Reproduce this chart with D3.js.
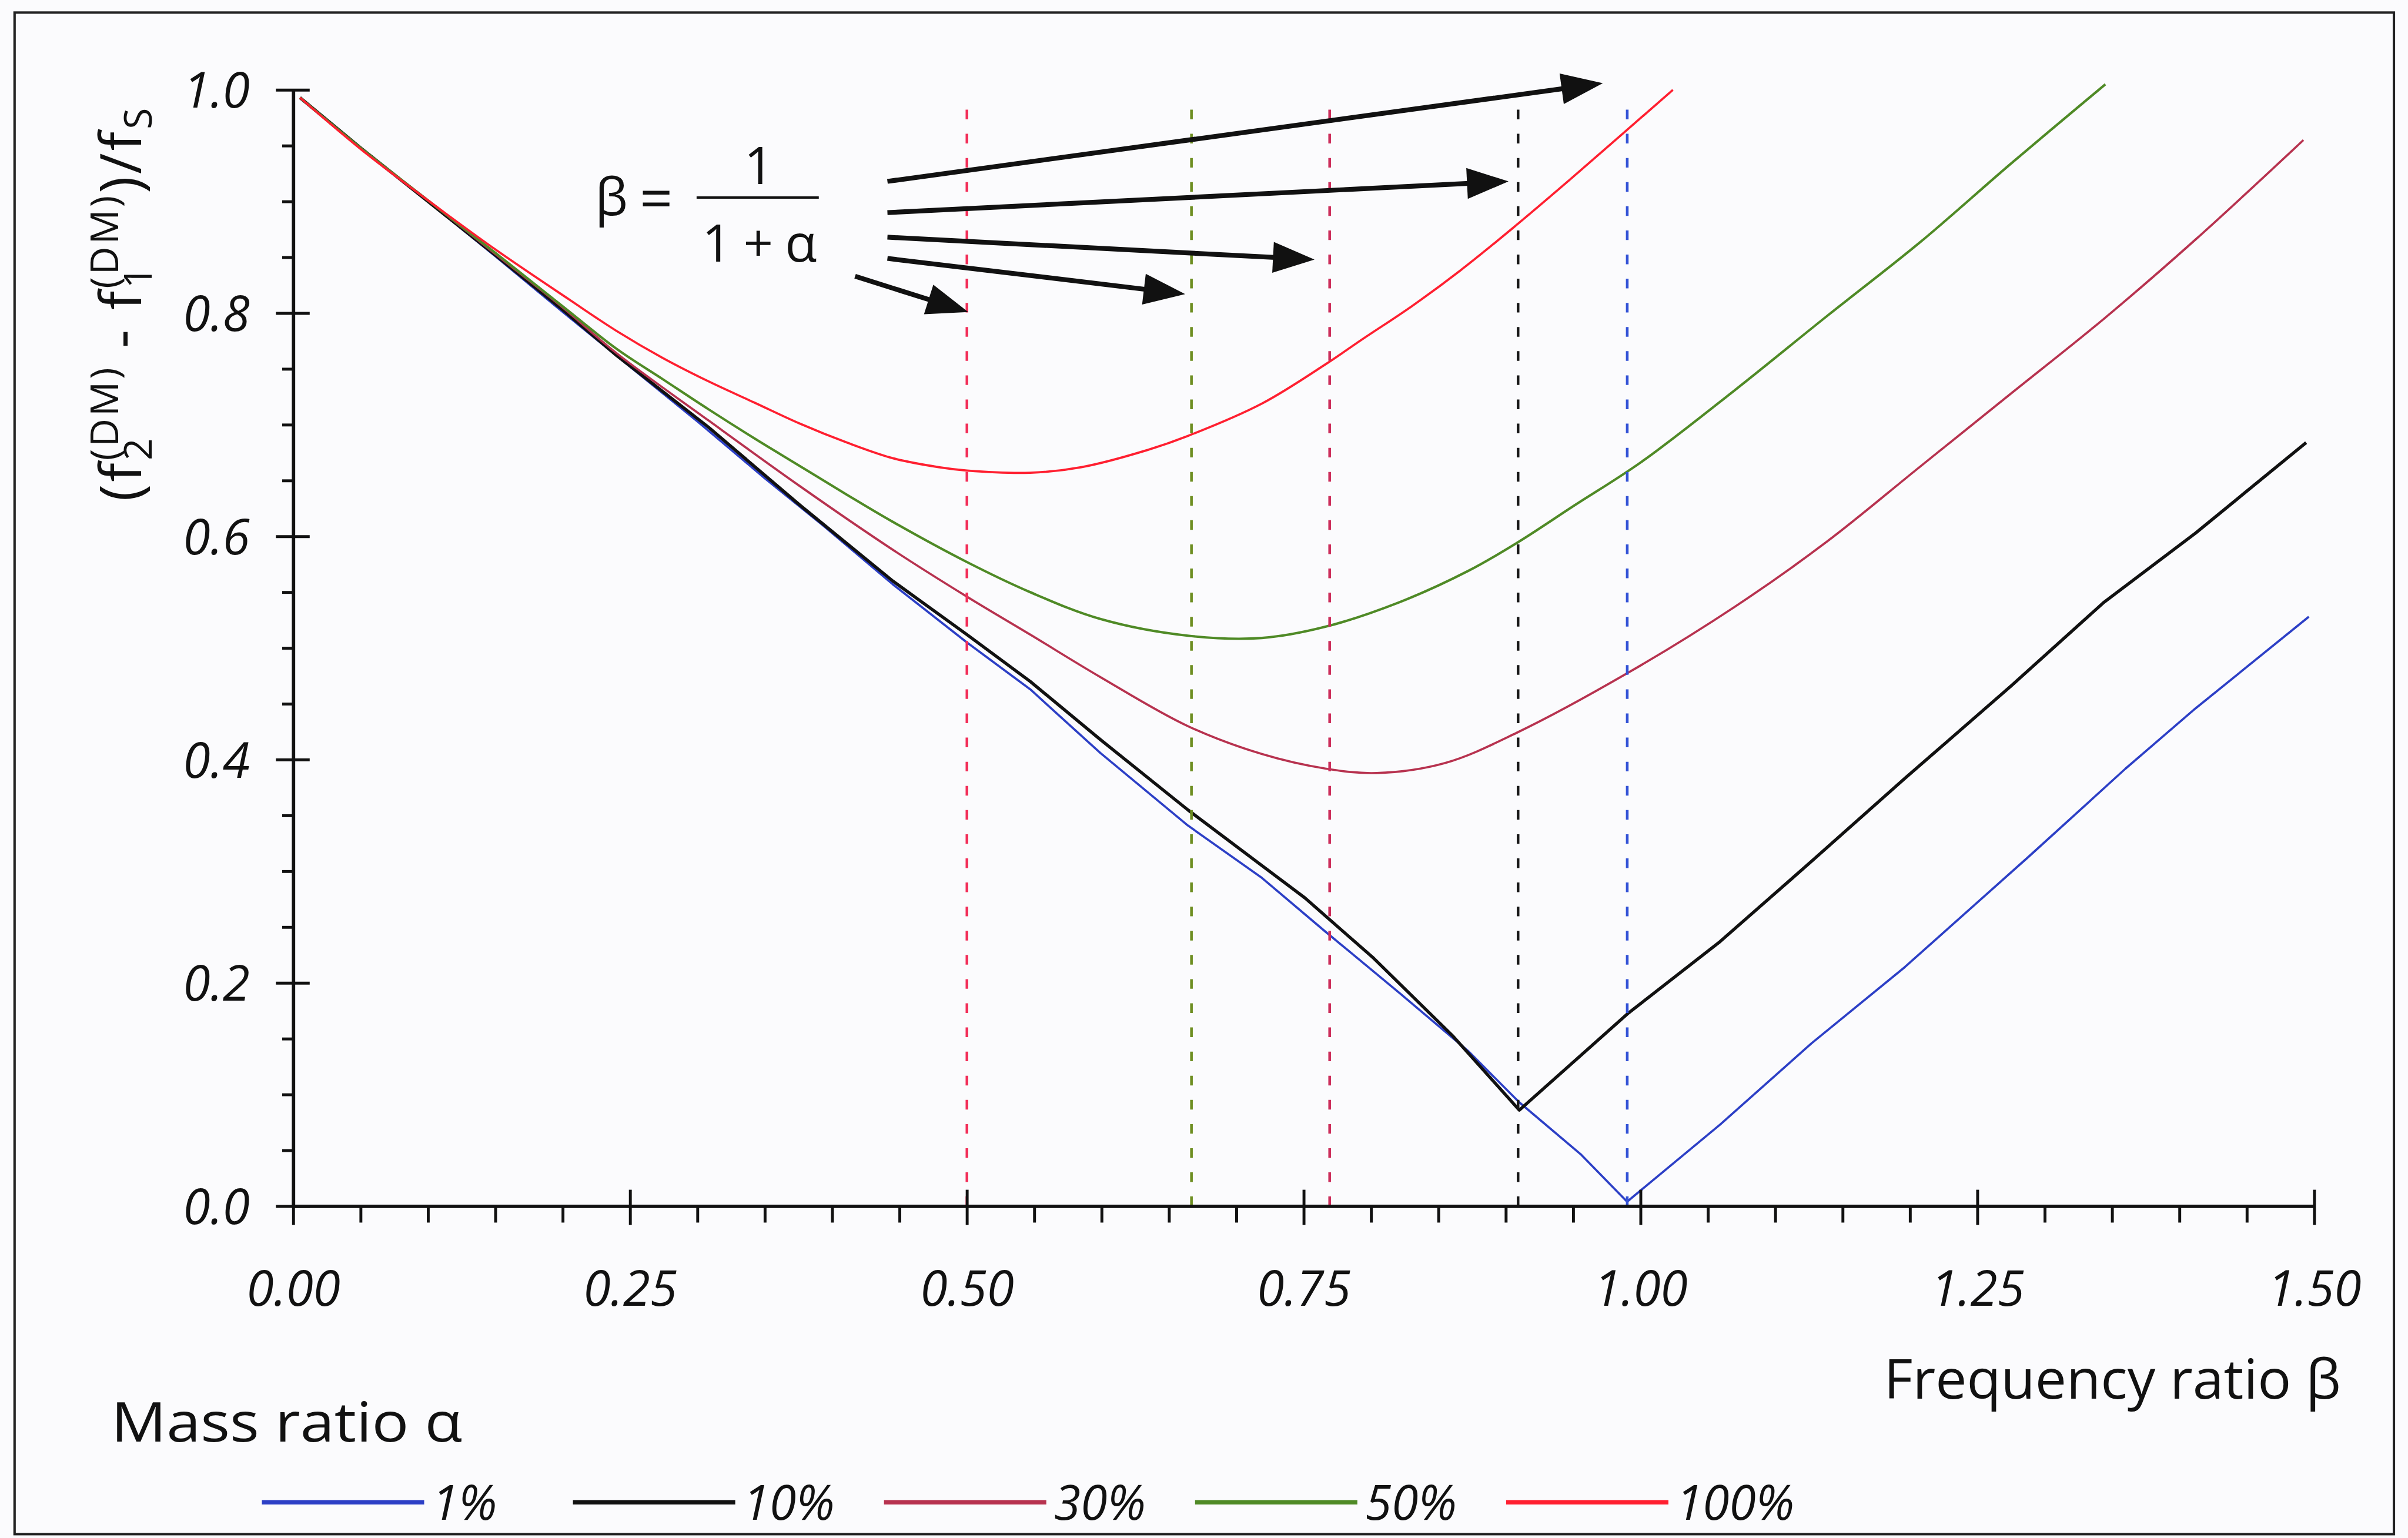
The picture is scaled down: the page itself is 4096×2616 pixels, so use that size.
<!DOCTYPE html>
<html>
<head>
<meta charset="utf-8">
<script src="https://cdn.jsdelivr.net/npm/d3@7"></script>
<style>
  html, body { margin: 0; padding: 0; background: #fbfbfd; overflow: hidden; }
  svg { display: block; }
</style>
</head>
<body>
<svg id="chart"></svg>
<script>
// ---- tick values -------------------------------------------------------
const xMajor = [0, 0.25, 0.5, 0.75, 1.0, 1.25, 1.5];
const yMajor = [0, 0.2, 0.4, 0.6, 0.8, 1.0];

// ---- series: mass ratio alpha, frequency ratio beta vs normalised gap ---
const seriesLabels = ["1%", "10%", "30%", "50%", "100%"];
const massRatios   = [0.01, 0.1, 0.3, 0.5, 1.0];

const beta1 = [0.005, 0.05, 0.10, 0.15, 0.20, 0.25, 0.30, 0.35, 0.393, 0.445, 0.50, 0.547, 0.599, 0.664, 0.719, 0.766, 0.821, 0.872, 0.910, 0.956, 0.990, 1.059, 1.127, 1.196, 1.288, 1.360, 1.412, 1.496];
const diff1 = [0.993, 0.948, 0.900, 0.851, 0.801, 0.752, 0.703, 0.652, 0.610, 0.557, 0.505, 0.463, 0.406, 0.341, 0.294, 0.246, 0.191, 0.139, 0.093, 0.046, 0.004, 0.073, 0.146, 0.214, 0.313, 0.392, 0.446, 0.528];

const beta10 = [0.005, 0.05, 0.10, 0.15, 0.20, 0.24, 0.308, 0.376, 0.445, 0.50, 0.547, 0.599, 0.664, 0.719, 0.751, 0.802, 0.861, 0.910, 0.991, 1.059, 1.127, 1.196, 1.275, 1.344, 1.412, 1.494];
const diff10 = [0.993, 0.948, 0.900, 0.852, 0.803, 0.762, 0.698, 0.628, 0.560, 0.512, 0.470, 0.418, 0.355, 0.305, 0.276, 0.222, 0.152, 0.086, 0.173, 0.237, 0.309, 0.383, 0.466, 0.541, 0.603, 0.684];

const beta30 = [0.005, 0.05, 0.10, 0.15, 0.20, 0.24, 0.308, 0.376, 0.445, 0.50, 0.547, 0.599, 0.664, 0.719, 0.766, 0.804, 0.855, 0.908, 0.991, 1.070, 1.138, 1.207, 1.275, 1.344, 1.412, 1.492];
const diff30 = [0.993, 0.948, 0.901, 0.853, 0.805, 0.764, 0.704, 0.645, 0.588, 0.546, 0.512, 0.474, 0.430, 0.405, 0.392, 0.388, 0.397, 0.424, 0.478, 0.537, 0.595, 0.662, 0.728, 0.795, 0.866, 0.955];

const beta50 = [0.005, 0.05, 0.10, 0.15, 0.20, 0.24, 0.274, 0.308, 0.342, 0.376, 0.41, 0.445, 0.50, 0.547, 0.599, 0.664, 0.719, 0.766, 0.821, 0.872, 0.908, 0.95, 1.001, 1.070, 1.138, 1.207, 1.275, 1.345];
const diff50 = [0.993, 0.948, 0.901, 0.854, 0.806, 0.768, 0.741, 0.714, 0.688, 0.663, 0.638, 0.613, 0.577, 0.550, 0.526, 0.511, 0.509, 0.519, 0.541, 0.569, 0.594, 0.627, 0.667, 0.731, 0.797, 0.863, 0.934, 1.005];

const beta100 = [0.005, 0.05, 0.10, 0.15, 0.205, 0.240, 0.274, 0.308, 0.342, 0.376, 0.411, 0.445, 0.479, 0.50, 0.547, 0.585, 0.633, 0.664, 0.719, 0.766, 0.794, 0.830, 0.866, 0.905, 0.948, 0.987, 1.024];
const diff100 = [0.993, 0.947, 0.901, 0.857, 0.812, 0.784, 0.760, 0.739, 0.720, 0.701, 0.684, 0.670, 0.662, 0.659, 0.657, 0.662, 0.677, 0.690, 0.719, 0.754, 0.777, 0.806, 0.838, 0.876, 0.920, 0.961, 1.000];

// ---- annotation arrows (beta, value) from the formula to each resonance line
const arrowFrom = [[0.441, 0.918], [0.441, 0.890], [0.441, 0.868], [0.441, 0.849], [0.417, 0.833]];
const arrowTo   = [[0.972, 1.006], [0.902, 0.918], [0.758, 0.848], [0.662, 0.817], [0.501, 0.801]];

// ---- styling ------------------------------------------------------------
const lineColors = ["#2c3fc6", "#111111", "#b7324f", "#4f8a26", "#ff1f30"];
const lineWidths = [4.5, 6.5, 4.5, 5, 4.5];
const dashColors = ["#3352d6", "#1a1a1a", "#cc2f5c", "#6e8e22", "#f2305a"];

const W = 4985, H = 3184;
const FONT = "'Open Sans', 'Noto Sans', sans-serif";

const svg = d3.select("#chart")
  .attr("width", 4096).attr("height", 2616)
  .attr("viewBox", `0 0 ${W} ${H}`);

svg.append("rect").attr("width", W).attr("height", H).attr("fill", "#fbfbfd");

// outer frame
svg.append("rect")
  .attr("x", 30).attr("y", 26).attr("width", 4926).attr("height", 3150)
  .attr("fill", "none").attr("stroke", "#222").attr("stroke-width", 5);

const x = d3.scaleLinear().domain([0, 1.5]).range([607, 4791]);
const y = d3.scaleLinear().domain([0, 1]).range([2497, 186]);

const series = seriesLabels.map((label, i) => ({
  label,
  alpha: massRatios[i],
  color: lineColors[i],
  width: lineWidths[i],
  dash: dashColors[i],
  smooth: i >= 2,
  points: [beta1, beta10, beta30, beta50, beta100][i]
    .map((b, j) => [b, [diff1, diff10, diff30, diff50, diff100][i][j]])
}));

// ---- curves -------------------------------------------------------------
const lineSharp = d3.line().x(d => x(d[0])).y(d => y(d[1])).curve(d3.curveLinear);
const lineSmooth = d3.line().x(d => x(d[0])).y(d => y(d[1])).curve(d3.curveCatmullRom.alpha(0.5));

svg.append("g").selectAll("path").data(series).join("path")
  .attr("d", s => (s.smooth ? lineSmooth : lineSharp)(s.points))
  .attr("fill", "none")
  .attr("stroke", s => s.color)
  .attr("stroke-width", s => s.width)
  .attr("stroke-linejoin", "round");

// ---- dashed lines at beta = 1/(1+alpha) --------------------------------
svg.append("g").selectAll("line").data(series).join("line")
  .attr("x1", s => x(1 / (1 + s.alpha))).attr("x2", s => x(1 / (1 + s.alpha)))
  .attr("y1", y(0)).attr("y2", y(0.987))
  .attr("stroke", s => s.dash)
  .attr("stroke-width", 5.5)
  .attr("stroke-dasharray", "20 30");

// ---- axes ---------------------------------------------------------------
const axisStyle = g => {
  g.selectAll("path.domain").attr("stroke", "#111").attr("stroke-width", 7);
  g.selectAll(".tick line").attr("stroke", "#111").attr("stroke-width", 6);
  g.selectAll(".tick text")
    .attr("fill", "#111")
    .style("font-family", FONT)
    .style("font-style", "italic")
    .style("font-size", "102px");
};

const minorX = d3.range(0, 31).map(i => i * 0.05).filter(v => Math.abs(v * 4 - Math.round(v * 4)) > 1e-6);
const minorY = d3.range(0, 21).map(i => i * 0.05).filter(v => Math.abs(v * 5 - Math.round(v * 5)) > 1e-6);

// x minor ticks (below the axis)
svg.append("g").attr("transform", `translate(0,${y(0)})`)
  .call(d3.axisBottom(x).tickValues(minorX).tickSize(34).tickSizeOuter(0).tickFormat(""))
  .call(g => g.select("path.domain").remove())
  .call(axisStyle);

// y minor ticks (left of the axis)
svg.append("g").attr("transform", `translate(${x(0)},0)`)
  .call(d3.axisLeft(y).tickValues(minorY).tickSize(23).tickSizeOuter(0).tickFormat(""))
  .call(g => g.select("path.domain").remove())
  .call(axisStyle);

// x major axis, ticks cross the line
svg.append("g").attr("transform", `translate(0,${y(0)})`)
  .call(d3.axisBottom(x).tickValues(xMajor).tickSize(39).tickSizeOuter(0).tickFormat(d3.format(".2f")))
  .call(axisStyle)
  .call(g => g.selectAll(".tick line").attr("y1", -34))
  .call(g => g.selectAll(".tick text").attr("y", 206).attr("dy", 0));

// y major axis, ticks cross the line
svg.append("g").attr("transform", `translate(${x(0)},0)`)
  .call(d3.axisLeft(y).tickValues(yMajor).tickSize(36).tickSizeOuter(0).tickFormat(d3.format(".1f")))
  .call(axisStyle)
  .call(g => g.selectAll(".tick line").attr("x1", 34))
  .call(g => g.selectAll(".tick text").attr("x", -90).attr("dy", "0.36em"));

// ---- annotation arrows --------------------------------------------------
const arrows = svg.append("g");
arrowFrom.forEach((a, i) => {
  const b = arrowTo[i];
  const p0 = [x(a[0]), y(a[1])], p1 = [x(b[0]), y(b[1])];
  const dx = p1[0] - p0[0], dy = p1[1] - p0[1];
  const len = Math.hypot(dx, dy);
  const ux = dx / len, uy = dy / len, nx = -uy, ny = ux;
  const headL = 86, headW = 32;
  const bx = p1[0] - ux * headL, by = p1[1] - uy * headL;
  arrows.append("line")
    .attr("x1", p0[0]).attr("y1", p0[1])
    .attr("x2", bx + ux * 4).attr("y2", by + uy * 4)
    .attr("stroke", "#111").attr("stroke-width", 10);
  arrows.append("polygon")
    .attr("points", [[p1[0], p1[1]], [bx + nx * headW, by + ny * headW], [bx - nx * headW, by - ny * headW]].map(p => p.join(",")).join(" "))
    .attr("fill", "#111");
});

// ---- formula beta = 1/(1+alpha) ----------------------------------------
const formula = svg.append("g").attr("fill", "#111")
  .style("font-family", FONT).style("font-size", "108px");
formula.append("text").attr("x", 1232).attr("y", 446).text("β");
formula.append("text").attr("x", 1324).attr("y", 454).style("font-size", "120px").text("=");
formula.append("line").attr("x1", 1442).attr("x2", 1695).attr("y1", 409).attr("y2", 409)
  .attr("stroke", "#111").attr("stroke-width", 5);
formula.append("text").attr("x", 1571).attr("y", 381).attr("text-anchor", "middle").text("1");
formula.append("text").attr("x", 1572).attr("y", 542).attr("text-anchor", "middle")
  .attr("textLength", 238).attr("lengthAdjust", "spacing").text("1+α");

// ---- axis titles --------------------------------------------------------
svg.append("text")
  .attr("x", 4846).attr("y", 2895).attr("text-anchor", "end")
  .attr("textLength", 946).attr("lengthAdjust", "spacingAndGlyphs")
  .style("font-family", FONT).style("font-size", "114px").attr("fill", "#111")
  .text("Frequency ratio β");

svg.append("text")
  .attr("x", 230).attr("y", 2985)
  .attr("textLength", 727).attr("lengthAdjust", "spacingAndGlyphs")
  .style("font-family", FONT).style("font-size", "114px").attr("fill", "#111")
  .text("Mass ratio α");

// y title: (f2^(DM) - f1^(DM))/fS, rotated, sub- and superscripts stacked
const yt = svg.append("text")
  .attr("transform", "translate(292,628) rotate(-90)")
  .attr("text-anchor", "middle")
  .style("font-family", FONT).style("font-size", "118px")
  .style("letter-spacing", "5px")
  .attr("fill", "#111");
const parts = [
  { t: "(f" },
  { t: "2", s: 80, dy: 22 },
  { t: "(DM)", s: 80, dx: -51, dy: -70 },
  { t: " - f", dy: 48 },
  { t: "1", s: 80, dy: 22 },
  { t: "(DM)", s: 80, dx: -51, dy: -70 },
  { t: ")/f", dy: 48 },
  { t: "S", s: 80, dy: 22 }
];
parts.forEach(p => {
  const ts = yt.append("tspan").text(p.t);
  if (p.s) ts.style("font-size", p.s + "px");
  if (p.dx) ts.attr("dx", p.dx);
  if (p.dy) ts.attr("dy", p.dy);
});

// ---- legend -------------------------------------------------------------
const legend = svg.append("g").selectAll("g").data(series).join("g")
  .attr("transform", (s, i) => `translate(${542 + i * 644},3110)`);
legend.append("line").attr("x1", 0).attr("x2", 336).attr("y1", 0).attr("y2", 0)
  .attr("stroke", s => s.color).attr("stroke-width", 9);
legend.append("text").attr("x", 352).attr("y", 36)
  .style("font-family", FONT).style("font-style", "italic").style("font-size", "100px")
  .attr("fill", "#111")
  .text(s => s.label);
</script>
</body>
</html>
